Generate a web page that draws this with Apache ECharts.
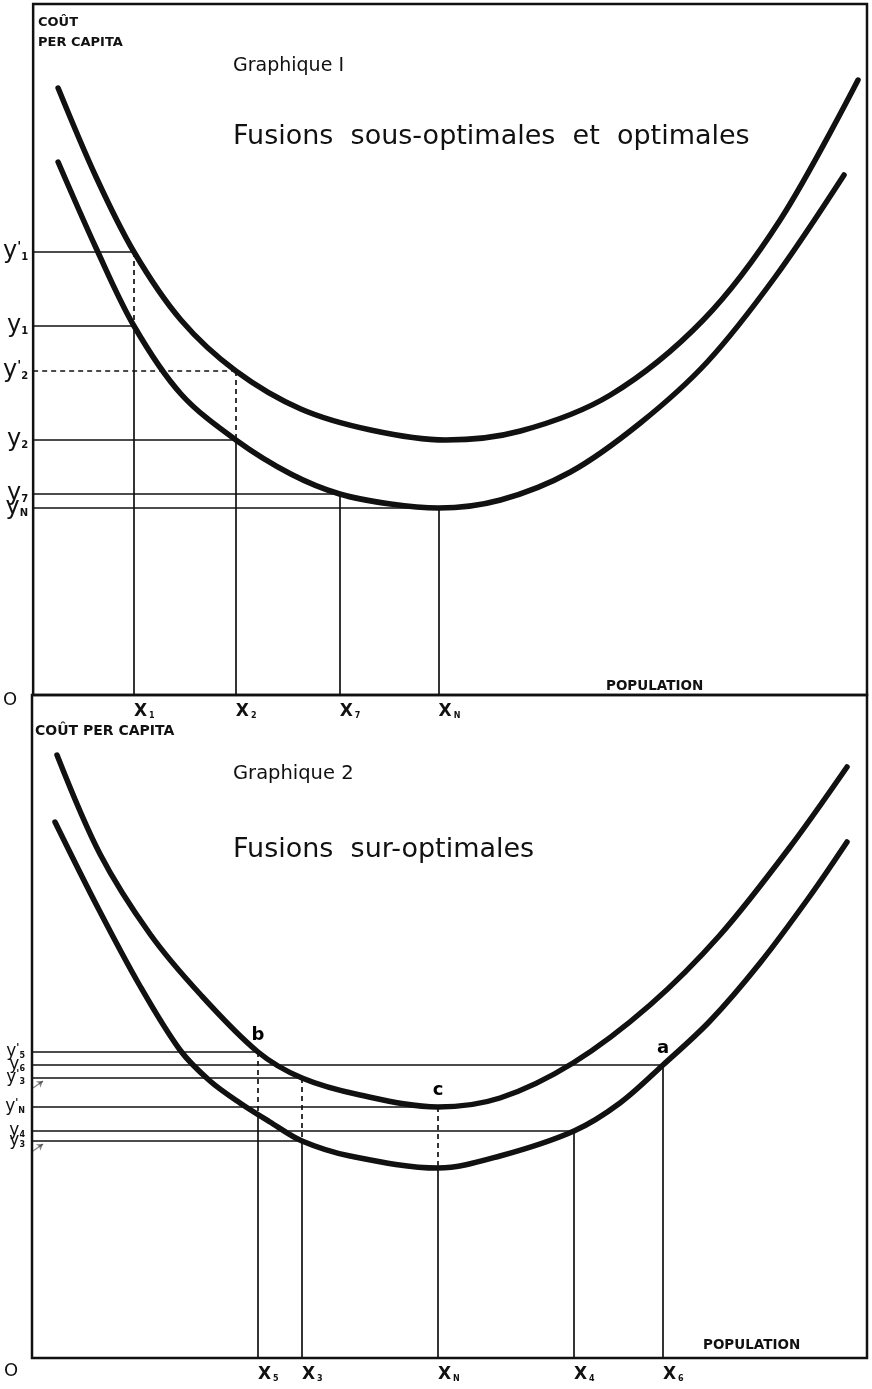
<!DOCTYPE html>
<html>
<head>
<meta charset="utf-8">
<script src="https://cdn.jsdelivr.net/npm/echarts@6/dist/echarts.min.js"></script>
<style>
  html, body { margin: 0; padding: 0; background: #fff; }
  #chart { width: 872px; height: 1389px; }
</style>
</head>
<body>
<div id="chart"></div>
<script>
// Graphique 1 : fusions sous-optimales et optimales (units)
const g1Upper = [[25,607],[63,518],[101,443],[148,375],[203,324],[268,286],[338,265],[413,255],[488,264],[578,300],[671,375],[748,475],[826,615]];
const g1Lower = [[25,533],[63,447],[101,369],[148,301],[203,255],[258,221],[307,201],[358,191],[406,187],[468,195],[538,223],[608,272],[675,333],[743,418],[812,520]];
const g1XNames = ['1', '2', '7', 'N'];
const g1X = [101, 203, 307, 406];
const g1YUpper = [443, 324, null, null];   // y'1, y'2
const g1YLower = [369, 255, 201, 187];     // y1, y2, y7, yN

// Graphique 2 : fusions sur-optimales
const g2Upper = [[25,603],[68,504],[118,424],[168,364],[226,306],[270,280],[328,263],[406,251],[468,260],[541,295],[618,353],[688,423],[758,511],[815,591]];
const g2Lower = [[23,536],[65,452],[108,372],[148,308],[178,277],[208,255],[238,236],[270,217],[318,202],[406,190],[468,202],[542,227],[588,255],[631,293],[678,337],[728,395],[778,462],[815,516]];
const g2XNames = ['5', '3', 'N', '4', '6'];
const g2X = [226, 270, 406, 542, 631];
const g2YUpper = [306, 280, 251, null, null];  // y'5, y'3, y'N
const g2YLower = [243, 217, 190, 227, 293];    // -, y3, -, y4, y6
const g2LowerTicked = [false, true, false, true, true];
const g2PointNames = ['b', 'c', 'a'];
const g2PointAt = [[0, 'upper'], [2, 'upper'], [4, 'lower']];

const INK = '#111';
const g1DashedLevel = ['2'];      // y'2 drawn dashed
const g2ArrowLabels = ['3'];      // small arrows at y'3 and y3

function buildGuides(xs, names, yUp, yLow, ticked, dashedH) {
  const out = [];
  const seg = (a, b, dashed) => out.push({ coords: [a, b], lineStyle: { type: dashed ? [5, 4] : 'solid' } });
  xs.forEach((x, i) => {
    const lo = yLow[i];
    if (yUp[i] != null) {
      seg([0, yUp[i]], [x, yUp[i]], dashedH.includes(names[i]));
      seg([x, yUp[i]], [x, lo], true);
    }
    if (ticked[i]) seg([0, lo], [x, lo], false);
    seg([x, lo], [x, 0], false);
  });
  return out;
}

// crowded labels: interleave the order so neighbours in the list are far apart
// (keeps ECharts from dropping one of two close labels)
function interleave(vals) {
  const s = vals.slice().sort((a, b) => a - b);
  const h = Math.ceil(s.length / 2), out = [];
  for (let i = 0; i < h; i++) {
    out.push(s[i]);
    if (s[i + h] != null) out.push(s[i + h]);
  }
  return out;
}

function yTicks(names, yUp, yLow, ticked) {
  const vals = [], labels = {};
  names.forEach((n, i) => {
    if (yUp[i] != null) { vals.push(yUp[i]); labels[yUp[i]] = `{y|y}{p|'}{s|${n}}`; }
    if (ticked[i]) { vals.push(yLow[i]); labels[yLow[i]] = `{y|y}{s|${n}}`; }
  });
  return { vals: interleave(vals), labels };
}

const g1Ticked = g1X.map(() => true);
const g1Guides = buildGuides(g1X, g1XNames, g1YUpper, g1YLower, g1Ticked, g1DashedLevel);
const g2Guides = buildGuides(g2X, g2XNames, g2YUpper, g2YLower, g2LowerTicked, []);
const g1Y = yTicks(g1XNames, g1YUpper, g1YLower, g1Ticked);
const g2Y = yTicks(g2XNames, g2YUpper, g2YLower, g2LowerTicked);

const g2Arrows = [];
g2XNames.forEach((n, i) => {
  if (!g2ArrowLabels.includes(n)) return;
  [g2YUpper[i], g2YLower[i]].forEach(v => g2Arrows.push({ coords: [[1, v - 10], [11, v - 3]] }));
});

const g2Points = g2PointAt.map(([i, which], k) => ({
  name: g2PointNames[k],
  value: [g2X[i], which === 'upper' ? g2YUpper[i] : g2YLower[i]]
}));

const richBig = {
  y: { fontSize: 24, fontFamily: 'DejaVu Sans', color: INK, lineHeight: 16 },
  p: { fontSize: 13, fontWeight: 'bold', fontFamily: 'DejaVu Sans', color: INK, padding: [0, 0, 10, 0] },
  s: { fontSize: 10, fontWeight: 'bold', fontFamily: 'DejaVu Sans', color: INK, padding: [10, 0, 0, 0] }
};
const richSmall = {
  y: { fontSize: 17, fontFamily: 'DejaVu Sans', color: INK, lineHeight: 14 },
  p: { fontSize: 10, fontWeight: 'bold', fontFamily: 'DejaVu Sans', color: INK, padding: [0, 0, 7, 0] },
  s: { fontSize: 8, fontWeight: 'bold', fontFamily: 'DejaVu Sans', color: INK, padding: [7, 0, 0, 0] }
};
const richX = {
  x: { fontSize: 17, fontWeight: 'bold', fontFamily: 'DejaVu Sans', color: INK, lineHeight: 18 },
  s: { fontSize: 8, fontWeight: 'bold', fontFamily: 'DejaVu Sans', color: INK, padding: [7, 0, 0, 2] }
};

function xAxisFor(idx, xs, names) {
  const lab = {};
  xs.forEach((x, i) => { lab[x] = `{x|X}{s|${names[i]}}`; });
  return {
    type: 'value', gridIndex: idx, min: 0, max: 835,
    axisLine: { show: false }, axisTick: { show: false }, splitLine: { show: false },
    axisLabel: { customValues: xs, margin: 8, align: 'left', hideOverlap: false,
                 showMinLabel: true, showMaxLabel: true,
                 formatter: v => lab[v] || '', rich: richX }
  };
}
function yAxisFor(idx, max, ticks, rich, margin) {
  return {
    type: 'value', gridIndex: idx, min: 0, max: max,
    axisLine: { show: false }, axisTick: { show: false }, splitLine: { show: false },
    axisLabel: { customValues: ticks.vals, margin: margin, hideOverlap: false,
                 showMinLabel: true, showMaxLabel: true,
                 formatter: v => ticks.labels[v] || '', rich: rich }
  };
}

const curve = (name, data, xi) => ({
  name, type: 'line', xAxisIndex: xi, yAxisIndex: xi, data,
  smooth: 0.33, showSymbol: false, silent: true,
  lineStyle: { color: INK, width: 5.5, cap: 'round', join: 'round' }
});
const guideSeries = (data, xi, extra) => Object.assign({
  type: 'lines', coordinateSystem: 'cartesian2d', xAxisIndex: xi, yAxisIndex: xi,
  data, silent: true, symbol: 'none', lineStyle: { color: INK, width: 1.7, opacity: 1 }
}, extra || {});

const txt = (text, x, y, size, weight, align) => ({
  type: 'text', x, y, silent: true,
  style: { text, fontSize: size, fontWeight: weight || 'normal', fontFamily: 'DejaVu Sans',
           fill: INK, align: align || 'left', verticalAlign: 'middle' }
});

const chart = echarts.init(document.getElementById('chart'), null, { renderer: 'canvas' });
chart.setOption({
  animation: false,
  backgroundColor: '#fff',
  grid: [
    { left: 32, top: 4, width: 835, height: 691, show: true, borderColor: INK, borderWidth: 2.5, backgroundColor: 'transparent' },
    { left: 32, top: 695, width: 835, height: 663, show: true, borderColor: INK, borderWidth: 2.5, backgroundColor: 'transparent' }
  ],
  xAxis: [xAxisFor(0, g1X, g1XNames), xAxisFor(1, g2X, g2XNames)],
  yAxis: [yAxisFor(0, 691, g1Y, richBig, 5), yAxisFor(1, 663, g2Y, richSmall, 7)],
  series: [
    guideSeries(g1Guides, 0),
    guideSeries(g2Guides, 1),
    guideSeries(g2Arrows, 1, { symbol: ['none', 'arrow'], symbolSize: 6, lineStyle: { color: INK, width: 1.4 } }),
    curve('Graphique 1 haut', g1Upper, 0),
    curve('Graphique 1 bas', g1Lower, 0),
    curve('Graphique 2 haut', g2Upper, 1),
    curve('Graphique 2 bas', g2Lower, 1),
    {
      type: 'scatter', xAxisIndex: 1, yAxisIndex: 1, data: g2Points, symbolSize: 0, silent: true,
      itemStyle: { color: INK, opacity: 1 },
      label: { show: true, position: 'top', distance: 8, formatter: p => p.name,
               fontSize: 18, fontWeight: 'bold', fontFamily: 'DejaVu Sans', color: '#000' }
    }
  ],
  graphic: [
    txt('COÛT', 38, 23, 13, 'bold'),
    txt('PER CAPITA', 38, 43, 13, 'bold'),
    txt('Graphique I', 233, 66, 19),
    txt('Fusions  sous-optimales  et  optimales', 233, 137, 27),
    txt('POPULATION', 606, 686, 13.5, 'bold'),
    txt('O', 10, 700, 18, 'normal', 'center'),
    txt('COÛT PER CAPITA', 35, 731, 14, 'bold'),
    txt('Graphique 2', 233, 774, 19.5),
    txt('Fusions  sur-optimales', 233, 850, 27),
    txt('POPULATION', 703, 1345, 13.5, 'bold'),
    txt('O', 11, 1371, 18, 'normal', 'center')
  ]
});
</script>
</body>
</html>
